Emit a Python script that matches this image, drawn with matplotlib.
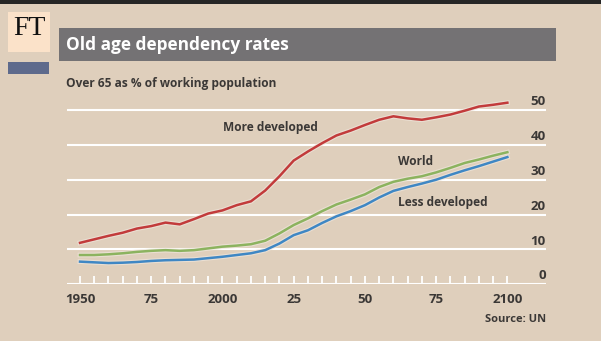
import matplotlib
matplotlib.use("Agg")
import matplotlib.pyplot as plt
import matplotlib.patheffects as pe
from matplotlib.patches import Rectangle
from matplotlib.transforms import blended_transform_factory

# Old age dependency rates, over-65s as % of working population (UN)
years = list(range(1950, 2101, 5))
more_developed = [11.9, 12.9, 13.9, 14.8, 16.0, 16.7, 17.7, 17.2, 18.7, 20.3, 21.2,
                  22.7, 23.8, 26.9, 31.0, 35.5, 38.1, 40.5, 42.7, 44.1, 45.7, 47.2,
                  48.2, 47.6, 47.2, 47.9, 48.7, 49.8, 51.0, 51.5, 52.1]
world = [8.4, 8.4, 8.6, 8.9, 9.3, 9.6, 9.8, 9.6, 9.8, 10.3, 10.8,
         11.1, 11.5, 12.5, 14.6, 17.0, 18.9, 21.0, 22.9, 24.3, 25.8, 27.9,
         29.4, 30.3, 31.0, 32.1, 33.4, 34.8, 35.8, 36.9, 37.9]
less_developed = [6.5, 6.3, 6.1, 6.2, 6.4, 6.7, 6.9, 7.0, 7.1, 7.5, 7.9,
                  8.4, 8.9, 9.8, 11.7, 14.1, 15.5, 17.6, 19.5, 21.0, 22.7, 24.9,
                  26.8, 27.9, 28.9, 30.0, 31.4, 32.7, 33.9, 35.2, 36.5]

x_major = [1950, 1975, 2000, 2025, 2050, 2075, 2100]
x_major_labels = ["1950", "75", "2000", "25", "50", "75", "2100"]
y_ticks = [0, 10, 20, 30, 40, 50]

BG = "#dfcfbc"
TEXT = "#3b3836"
RED = "#c23b3b"
GREEN = "#8cb35f"
BLUE = "#3f87c4"

plt.rcParams["font.family"] = ["Open Sans", "DejaVu Sans"]

W, H = 601, 341
fig = plt.figure(figsize=(W / 100, H / 100), dpi=100, facecolor=BG)

def px_rect(x0, y0, x1, y1, color):
    fig.patches.append(Rectangle((x0 / W, 1 - y1 / H), (x1 - x0) / W, (y1 - y0) / H,
                                 transform=fig.transFigure, facecolor=color,
                                 edgecolor="none", zorder=0))

# header furniture
px_rect(0, 0, W, 4, "#262626")
px_rect(8, 12, 50, 52, "#fbe2c9")
fig.text(29 / W, 1 - 28.5 / H, "FT", family="Liberation Serif", fontsize=20,
         color="#111111", ha="center", va="center")
px_rect(8, 62, 49, 74, "#5e6a8c")
px_rect(59, 28, 556, 61, "#747274")
fig.text(66 / W, 1 - 45 / H, "Old age dependency rates", fontsize=12.4,
         fontweight="bold", color="white", ha="left", va="center")
fig.text(66 / W, 1 - 83 / H, "Over 65 as % of working population", fontsize=8.6,
         fontweight="bold", color=TEXT, ha="left", va="center")

# plot area
ax_l, ax_r = 66.7, 545.7
ax_b, ax_t = 284.3, 89.1
ax = fig.add_axes([ax_l / W, 1 - ax_b / H, (ax_r - ax_l) / W, (ax_b - ax_t) / H])
ax.set_facecolor("none")
ax.set_xlim(1945.33, 2113.45)
ax.set_ylim(0, 56)
for s in ax.spines.values():
    s.set_visible(False)

for v in y_ticks:
    ax.axhline(v, color="white", lw=1.5, zorder=1)

halo = [pe.Stroke(linewidth=3.4, foreground="#efe6dc", alpha=0.7), pe.Normal()]
ax.plot(years, more_developed, color=RED, lw=1.8, zorder=3, path_effects=halo,
        solid_joinstyle="round", clip_on=False)
ax.plot(years, world, color=GREEN, lw=1.8, zorder=3, path_effects=halo,
        solid_joinstyle="round", clip_on=False)
ax.plot(years, less_developed, color=BLUE, lw=1.8, zorder=4, path_effects=halo,
        solid_joinstyle="round", clip_on=False)

ax.set_xticks(x_major)
ax.set_xticklabels(x_major_labels)
ax.set_xticks(years, minor=True)
ax.tick_params(axis="x", which="both", direction="in", length=6, width=1.3,
               color="white", pad=6, labelsize=9.5, labelcolor=TEXT)
for lab in ax.get_xticklabels():
    lab.set_fontweight("bold")
ax.set_yticks([])

trans = blended_transform_factory(ax.transAxes, ax.transData)
for v in y_ticks:
    ax.text(1.0, v + 2.4, str(v), transform=trans, ha="right", va="center",
            fontsize=9.5, fontweight="bold", color=TEXT)

lab_kw = dict(fontsize=8.6, fontweight="bold", color=TEXT, va="center")
ax.text(2000.1, (284.3 - 127) / 3.486, "More developed", ha="left", **lab_kw)
ax.text(2061.5, (284.3 - 161) / 3.486, "World", ha="left", **lab_kw)
ax.text(2061.5, (284.3 - 202) / 3.486, "Less developed", ha="left", **lab_kw)

fig.text(546 / W, 1 - 320 / H, "Source: UN", fontsize=8, fontweight="bold",
         color=TEXT, ha="right", va="center")

fig.savefig("out.png", dpi=100, facecolor=BG)
